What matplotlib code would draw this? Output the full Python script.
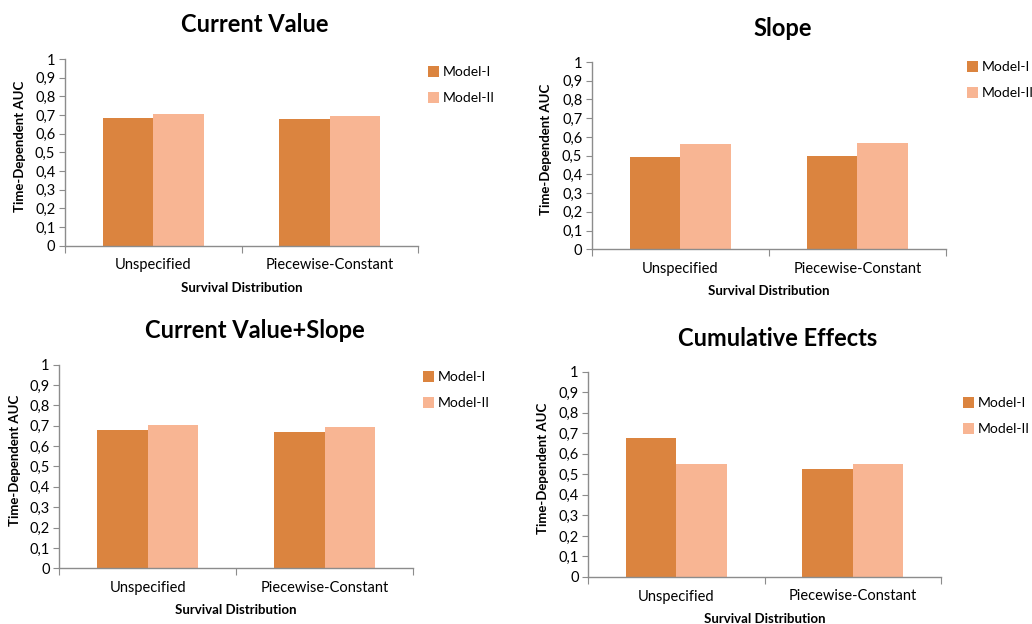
import matplotlib
matplotlib.use("Agg")
import matplotlib.pyplot as plt
import numpy as np

# Data
categories = ["Unspecified", "Piecewise-Constant"]
series_names = ["Model-I", "Model-II"]
panel_titles = ["Current Value", "Slope", "Current Value+Slope", "Cumulative Effects"]

current_value_m1 = [0.682, 0.677]
current_value_m2 = [0.705, 0.696]
slope_m1 = [0.493, 0.496]
slope_m2 = [0.562, 0.567]
cv_slope_m1 = [0.679, 0.667]
cv_slope_m2 = [0.703, 0.695]
cumulative_m1 = [0.675, 0.526]
cumulative_m2 = [0.552, 0.549]

y_ticks = [0, 0.1, 0.2, 0.3, 0.4, 0.5, 0.6, 0.7, 0.8, 0.9, 1.0]
y_tick_labels = ["0", "0,1", "0,2", "0,3", "0,4", "0,5", "0,6", "0,7", "0,8", "0,9", "1"]
x_label = "Survival Distribution"
y_label = "Time-Dependent AUC"

colors = ["#DB843F", "#F8B593"]
spine_color = "#8C8C8C"

plt.rcParams["font.family"] = ["Lato", "DejaVu Sans"]

W, H = 1032, 624
fig = plt.figure(figsize=(W / 100, H / 100), dpi=100)


def px_rect(left, top, right, bottom):
    return [left / W, 1 - bottom / H, (right - left) / W, (bottom - top) / H]


# (axes box in pixels, title pos, ylabel x, legend anchor)
layouts = [
    dict(box=(65, 59, 418, 245.7), title=(255, 25), ylab_x=20, leg=(428, 66)),
    dict(box=(592, 62, 945.7, 249.3), title=(783, 29), ylab_x=546, leg=(967, 61)),
    dict(box=(59.3, 364.7, 413, 568.3), title=(255, 331), ylab_x=15, leg=(423, 371)),
    dict(box=(588.3, 371.7, 940.7, 577), title=(778, 338), ylab_x=543, leg=(963, 397)),
]

data = [
    (current_value_m1, current_value_m2),
    (slope_m1, slope_m2),
    (cv_slope_m1, cv_slope_m2),
    (cumulative_m1, cumulative_m2),
]

x = np.arange(len(categories))
bw = 0.285

for lay, (m1, m2), title in zip(layouts, data, panel_titles):
    l, t, r, b = lay["box"]
    ax = fig.add_axes(px_rect(l, t, r, b))
    h1 = ax.bar(x - bw / 2, m1, bw, color=colors[0], label=series_names[0], linewidth=0)
    h2 = ax.bar(x + bw / 2, m2, bw, color=colors[1], label=series_names[1], linewidth=0)
    ax.set_xlim(-0.5, 1.5)
    ax.set_ylim(0, 1)
    ax.set_yticks(y_ticks)
    ax.set_yticklabels(y_tick_labels, fontsize=10.5)
    ax.set_xticks([-0.5, 0.5, 1.5])
    ax.set_xticklabels([])
    ax.set_xticks(x, minor=True)
    ax.set_xticklabels(categories, minor=True, fontsize=10.5)
    ax.tick_params(axis="x", which="minor", length=0, pad=9)
    ax.tick_params(axis="x", which="major", length=5, color=spine_color, direction="out")
    ax.tick_params(axis="y", length=4, color=spine_color, pad=3)
    for s in ["top", "right"]:
        ax.spines[s].set_visible(False)
    for s in ["left", "bottom"]:
        ax.spines[s].set_color(spine_color)
        ax.spines[s].set_linewidth(1.0)

    # Titles and axis labels placed in pixel space
    tx, ty = lay["title"]
    fig.text(tx / W, 1 - ty / H, title, ha="center", va="center",
             fontsize=17, fontweight="bold")
    fig.text(((l + r) / 2) / W, 1 - (b + 42) / H, x_label, ha="center", va="center",
             fontsize=9.5, fontweight="bold")
    fig.text(lay["ylab_x"] / W, 1 - ((t + b) / 2 - 6) / H, y_label, ha="center",
             va="center", rotation=90, fontsize=9.5, fontweight="bold")

    lx, ly = lay["leg"]
    ax.legend(handles=[h1, h2], loc="upper left",
              bbox_to_anchor=(lx / W, 1 - ly / H), bbox_transform=fig.transFigure,
              frameon=False, fontsize=10, handlelength=0.8, handleheight=0.8,
              handletextpad=0.25, labelspacing=1.0, borderaxespad=0, borderpad=0)

fig.savefig("out.png", dpi=100)
